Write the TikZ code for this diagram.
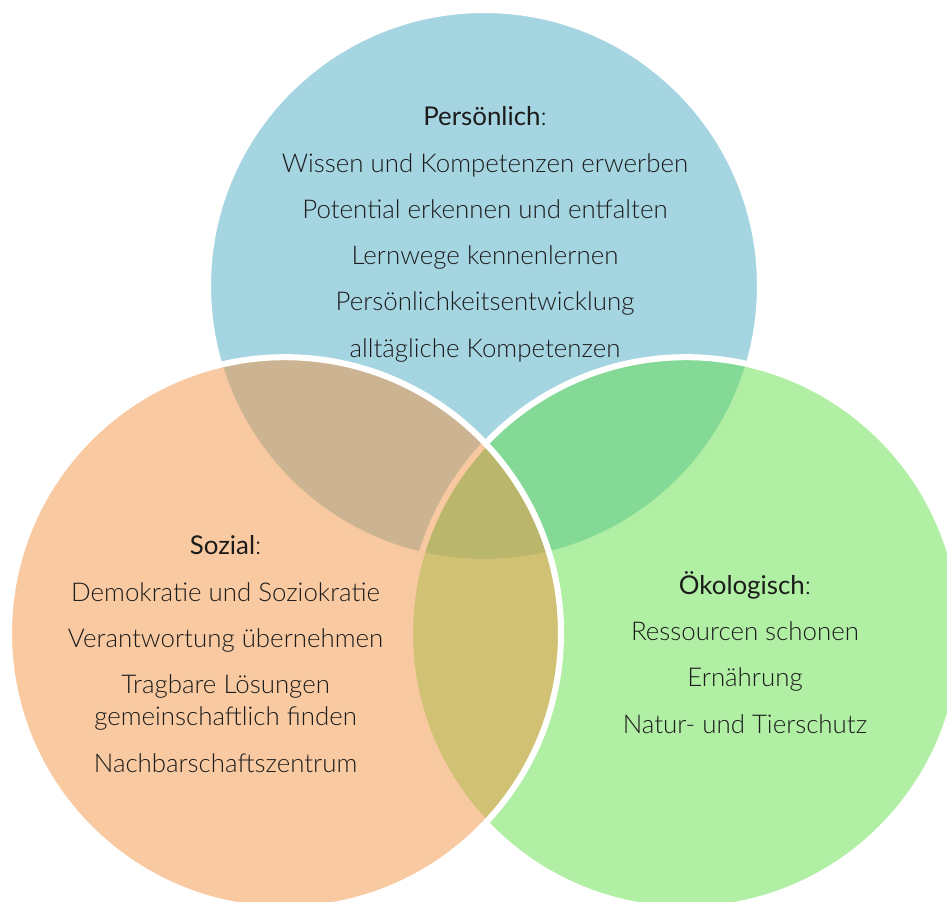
\documentclass[tikz,border=0pt]{standalone}
\usepackage{fontspec}
\setmainfont{Lato}[UprightFont=* Light, BoldFont=*]
\usepackage{xcolor}
\definecolor{vennblue}{RGB}{77, 171, 197}
\definecolor{vennorange}{RGB}{243, 149, 69}
\definecolor{venngreen}{RGB}{97, 223, 73}
\definecolor{venntext}{RGB}{28, 28, 28}

\begin{document}
\begin{tikzpicture}[
    circ/.style={
        draw=white,
        line width=4.3pt,
        fill opacity=0.5
    },
    areatext/.style={
        align=center,
        text=venntext,
        font=\fontsize{18.4}{32.9}\selectfont
    }
]

% Page frame
\useasboundingbox (0,0) rectangle (23.675,22.55);
\clip (0,0) rectangle (23.675,22.55);

% Circle centres
\coordinate (persoenlich) at (12.1,15.4);
\coordinate (sozial) at (7.125,6.72);
\coordinate (oekologisch) at (17.15,6.72);

% Circles
\draw[circ, fill=vennblue] (persoenlich) circle (6.9);
\draw[circ, fill=venngreen] (oekologisch) circle (6.9);
\draw[circ, fill=vennorange] (sozial) circle (6.9);

% Texts
\node[areatext] (persoenlichtext) at (12.125,16.69) {\textbf{Persönlich}:\\
    Wissen und Kompetenzen erwerben\\
    Potential erkennen und entfalten\\
    Lernwege kennenlernen\\
    Persönlichkeitsentwicklung\\
    alltägliche Kompetenzen};
\node[areatext] (sozialtext) at (5.64,6.2) {\textbf{Sozial}:\\
    Demokratie und Soziokratie\\
    Verantwortung übernehmen\\
    Tragbare Lösungen\\[-10pt]
    gemeinschaftlich finden\\
    Nachbarschaftszentrum};
\node[areatext] (oekologischtext) at (18.625,6.24) {\textbf{Ökologisch}:\\
    Ressourcen schonen\\
    Ernährung\\
    Natur- und Tierschutz};

\end{tikzpicture}
\end{document}
